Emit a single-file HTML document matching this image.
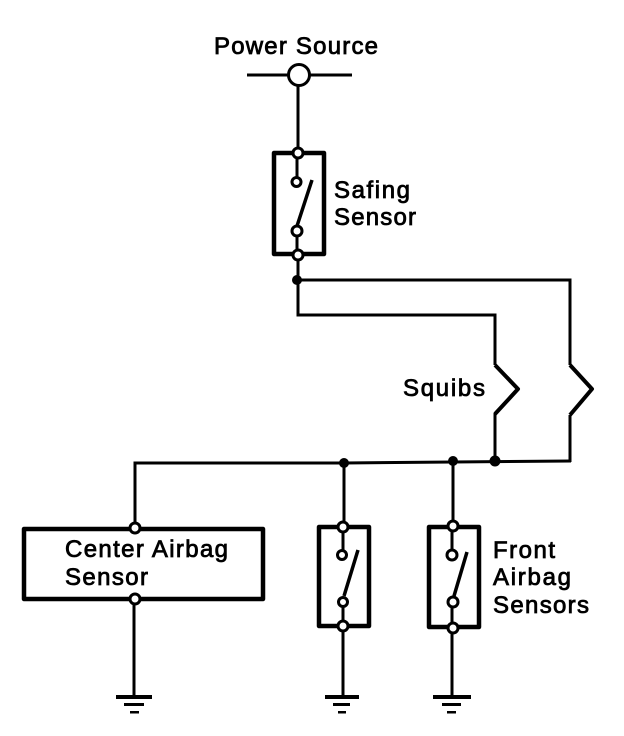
<!DOCTYPE html>
<html>
<head>
<meta charset="utf-8">
<style>
html,body{margin:0;padding:0;background:#fff;}
svg{display:block;}
text{font-family:"Liberation Sans",sans-serif;font-size:24px;fill:#000;stroke:#000;stroke-width:.8px;}
.w{fill:none;stroke:#000;stroke-width:3;stroke-linejoin:miter;}
.b{fill:none;stroke:#000;stroke-width:4.5;stroke-linejoin:round;}
.n{fill:#fff;stroke:#000;stroke-width:3;}
.j{fill:#000;stroke:none;}
</style>
</head>
<body>
<svg width="624" height="736" viewBox="0 0 624 736" xmlns="http://www.w3.org/2000/svg">
<rect width="624" height="736" fill="#fff"/>

<path class="w" d="M247 75H352"/>
<path class="w" d="M298 85V153"/>
<circle cx="299" cy="75" r="10.5" class="n"/>

<!-- wires -->
<path class="w" d="M298 255V315H495V365"/>
<path class="w" d="M297 280H570V365"/>
<path class="w" d="M495 413V461"/>
<path class="w" d="M570 415V462"/>
<path class="b" style="stroke-width:4" d="M495 365L518 389L495 414"/>
<path class="b" style="stroke-width:4" d="M570 365L592 389L570 415"/>
<path class="w" d="M135 528V463H344L453 462L571 461"/>
<path class="w" d="M344 463V527"/>
<path class="w" d="M453 461V527"/>
<circle cx="297" cy="280" r="5" class="j"/>
<circle cx="344" cy="463" r="5" class="j"/>
<circle cx="453" cy="461" r="5" class="j"/>
<circle cx="495" cy="461" r="5.5" class="j"/>

<!-- Safing sensor -->
<rect x="274" y="153" width="50" height="101" class="b"/>
<path class="w" d="M297 153V178M297 235V255"/>
<path class="w" style="stroke-width:3.5" d="M312 180L297 226"/>
<circle cx="298" cy="153" r="5" class="n"/>
<circle cx="296.5" cy="182" r="4.5" class="n"/>
<circle cx="297" cy="231" r="5" class="n"/>
<circle cx="298" cy="255" r="5" class="n"/>

<!-- Center airbag sensor -->
<rect x="24" y="529" width="239" height="70" class="b"/>
<path class="w" d="M134 600V696"/>
<circle cx="135" cy="528" r="5" class="n"/>
<circle cx="135" cy="599" r="5" class="n"/>

<!-- Middle sensor -->
<rect x="319" y="527" width="50" height="99" class="b"/>
<path class="w" d="M343 527V552M343 606V696"/>
<path class="w" style="stroke-width:3.5" d="M358 550L344 596"/>
<circle cx="343" cy="527" r="5" class="n"/>
<circle cx="342" cy="555" r="4.5" class="n"/>
<circle cx="343" cy="602" r="4.5" class="n"/>
<circle cx="343" cy="626" r="5" class="n"/>

<!-- Right sensor -->
<rect x="429" y="527" width="50" height="100" class="b"/>
<path class="w" d="M452 527V552M452 606V696"/>
<path class="w" style="stroke-width:3.5" d="M467 552L454 596"/>
<circle cx="453" cy="526" r="5" class="n"/>
<circle cx="452" cy="555" r="5" class="n"/>
<circle cx="453" cy="602" r="5" class="n"/>
<circle cx="453" cy="628" r="5" class="n"/>

<!-- Grounds -->
<g fill="#000">
<rect x="116" y="695" width="36" height="4"/><rect x="124" y="703" width="20" height="3"/><rect x="130" y="711" width="9" height="2.5"/>
<rect x="325" y="695" width="34" height="4"/><rect x="333" y="703" width="17" height="3"/><rect x="338" y="711" width="8" height="2.5"/>
<rect x="433" y="695" width="38" height="4"/><rect x="442" y="703" width="19" height="3"/><rect x="447" y="711" width="9" height="2.5"/>
</g>

<!-- Labels -->
<text x="214" y="54" textLength="164" lengthAdjust="spacing">Power Source</text>
<text x="334" y="198" textLength="76" lengthAdjust="spacing">Safing</text>
<text x="334" y="225" textLength="82" lengthAdjust="spacing">Sensor</text>
<text x="403" y="396" textLength="82" lengthAdjust="spacing">Squibs</text>
<text x="65" y="557" textLength="163" lengthAdjust="spacing">Center Airbag</text>
<text x="65" y="585" textLength="83" lengthAdjust="spacing">Sensor</text>
<text x="493" y="558" textLength="62" lengthAdjust="spacing">Front</text>
<text x="493" y="585" textLength="78" lengthAdjust="spacing">Airbag</text>
<text x="493" y="613" textLength="96" lengthAdjust="spacing">Sensors</text>
</svg>
</body>
</html>
